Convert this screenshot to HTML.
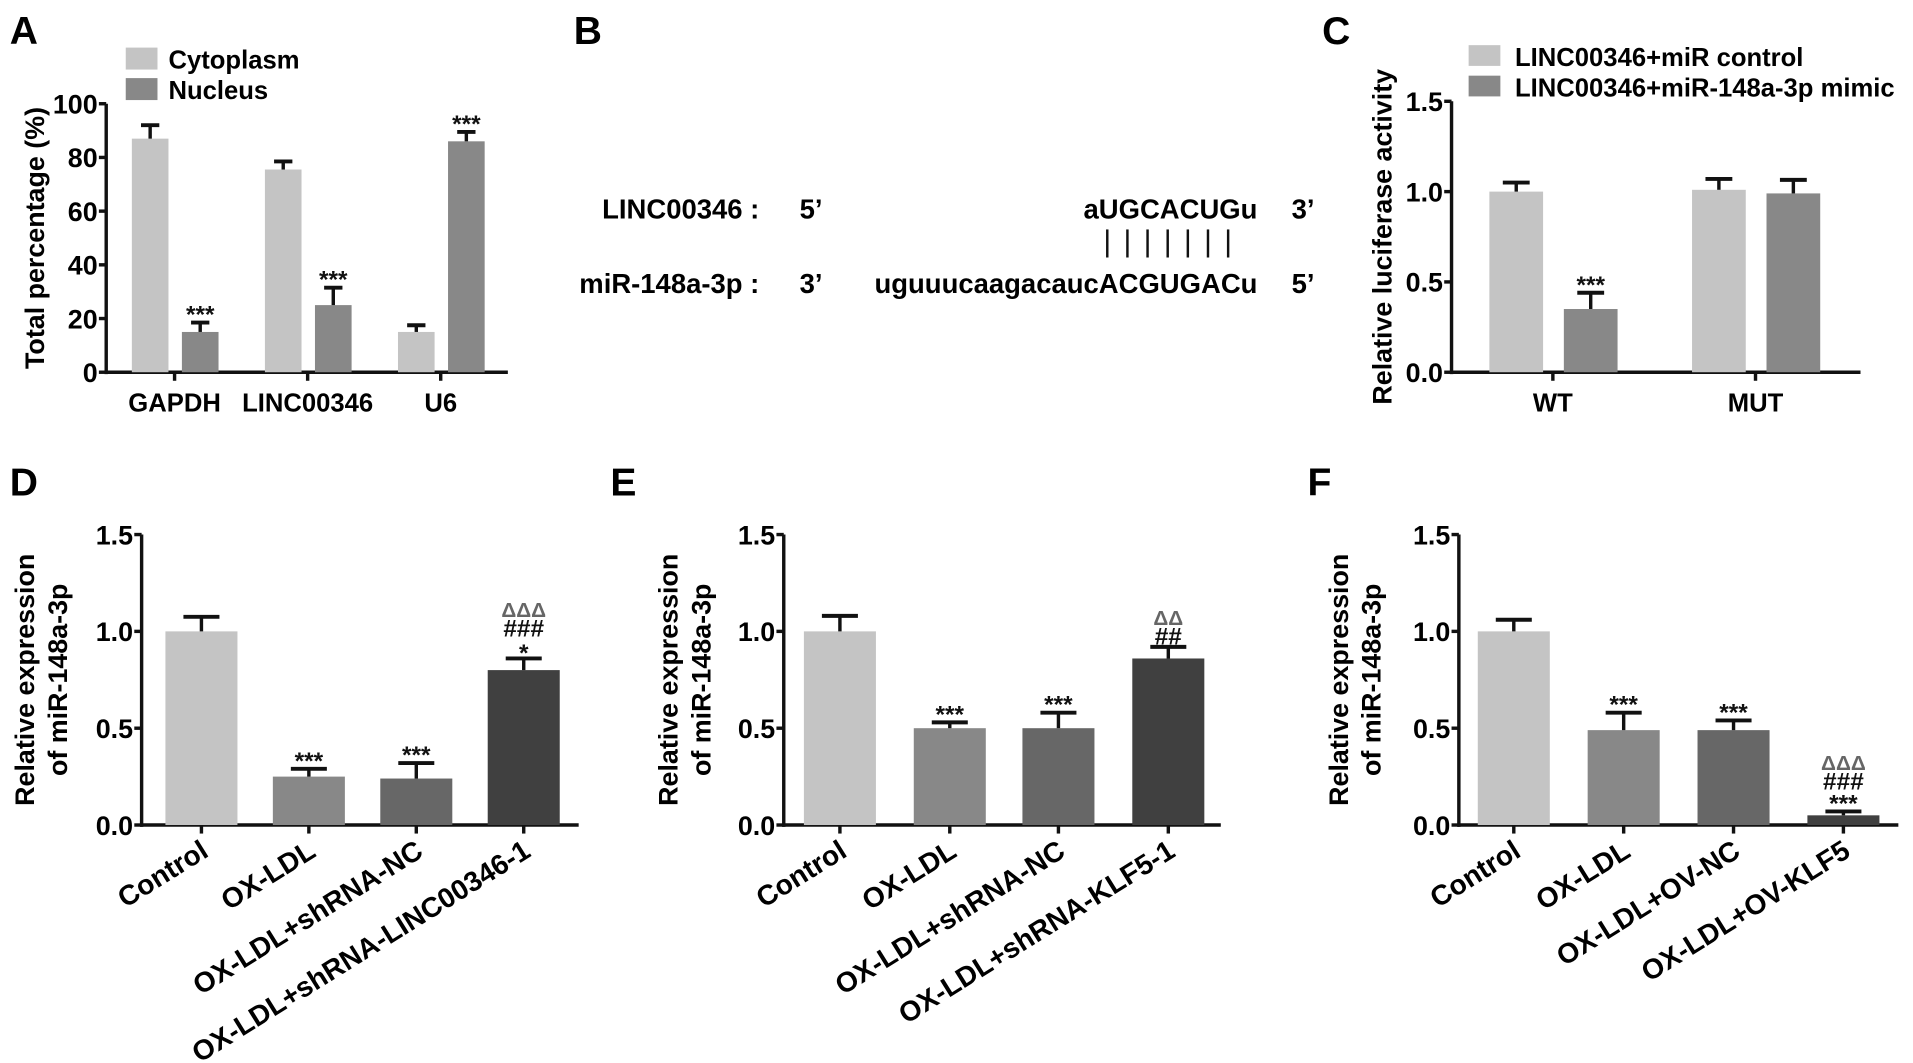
<!DOCTYPE html>
<html><head><meta charset="utf-8"><style>
html,body{margin:0;padding:0;background:#fff;}
svg{display:block;font-family:"Liberation Sans",Arial,sans-serif;font-weight:bold;}
</style></head><body>
<svg id="fig" width="1913" height="1063" viewBox="0 0 1567 871" preserveAspectRatio="none" xmlns="http://www.w3.org/2000/svg">
<rect width="1567" height="871" fill="#fff"/>
<text x="8" y="36" font-size="32">A</text>
<text x="470" y="36" font-size="32">B</text>
<text x="1083" y="36" font-size="32">C</text>
<text x="8" y="406" font-size="32">D</text>
<text x="500" y="406" font-size="32">E</text>
<text x="1071" y="406" font-size="32">F</text>
<!-- Panel A legend -->
<rect x="103" y="39" width="26" height="18" fill="#c4c4c4"/>
<text x="138" y="56" font-size="21">Cytoplasm</text>
<rect x="103" y="64" width="26" height="18" fill="#888"/>
<text x="138" y="81" font-size="21">Nucleus</text>
<!-- Panel C legend -->
<rect x="1203" y="37" width="26" height="17" fill="#c4c4c4"/>
<text x="1241" y="54" font-size="21">LINC00346+miR control</text>
<rect x="1203" y="62" width="26" height="17" fill="#888"/>
<text x="1241" y="79" font-size="21">LINC00346+miR-148a-3p mimic</text>
<!-- Panel B -->
<g font-size="22.5">
<text x="622" y="179" text-anchor="end">LINC00346 :</text>
<text x="655" y="179">5’</text>
<text x="1030" y="179" text-anchor="end">aUGCACUGu</text>
<text x="1058" y="179">3’</text>
<text x="622" y="240" text-anchor="end">miR-148a-3p :</text>
<text x="655" y="240">3’</text>
<text x="1030" y="240" text-anchor="end">uguuucaagacaucACGUGACu</text>
<text x="1058" y="240">5’</text>
<g id="pairs" stroke="#111" stroke-width="2"></g>
</g>
<g id="charts"></g>
</svg>
<script>
// Panel A data
const aCats = ["GAPDH","LINC00346","U6"];
const aCyto = [87, 75.5, 15];
const aCytoErr = [5, 3, 2.5];
const aNuc = [15, 25, 86];
const aNucErr = [3.5, 6.5, 3.5];
const aTicks = [0,20,40,60,80,100];
// Panel C data
const cCats = ["WT","MUT"];
const cCtrl = [1.0, 1.01];
const cCtrlErr = [0.05, 0.06];
const cMimic = [0.35, 0.99];
const cMimicErr = [0.09, 0.075];
const relTicks = ["0.0","0.5","1.0","1.5"];
// Panel D data
const dCats = ["Control","OX-LDL","OX-LDL+shRNA-NC","OX-LDL+shRNA-LINC00346-1"];
const dVals = [1.0, 0.25, 0.24, 0.80];
const dErr = [0.075, 0.04, 0.08, 0.06];
const dAnn = [[],["***"],["***"],["*","###","ΔΔΔ"]];
// Panel E data
const eCats = ["Control","OX-LDL","OX-LDL+shRNA-NC","OX-LDL+shRNA-KLF5-1"];
const eVals = [1.0, 0.50, 0.50, 0.86];
const eErr = [0.08, 0.03, 0.08, 0.06];
const eAnn = [[],["***"],["***"],["##","ΔΔ"]];
// Panel F data
const fCats = ["Control","OX-LDL","OX-LDL+OV-NC","OX-LDL+OV-KLF5"];
const fVals = [1.0, 0.49, 0.49, 0.05];
const fErr = [0.06, 0.09, 0.05, 0.02];
const fAnn = [[],["***"],["***"],["***","###","ΔΔΔ"]];

const NS="http://www.w3.org/2000/svg";
const root=document.getElementById('charts');
function mk(tag,attrs,parent){const e=document.createElementNS(NS,tag);for(const k in attrs)e.setAttribute(k,attrs[k]);(parent||root).appendChild(e);return e;}

const pairs=document.getElementById('pairs');
for(let i=0;i<7;i++){
  const l=mk('line',{x1:907+i*16.5,x2:907+i*16.5,y1:188,y2:211},pairs);
  
  
}

function axes(g,p){
  const ys=v=>p.y0-(v/p.max)*(p.y0-p.yTop);
  let l=mk('line',{x1:p.ax,x2:p.ax,y1:p.yTop,y2:p.y0+1.5,stroke:'#111','stroke-width':2.8},g);
  
  
  l=mk('line',{x1:p.ax-1,x2:p.end,y1:p.y0,y2:p.y0,stroke:'#111','stroke-width':2.8},g);
  
  
  p.ticks.forEach(t=>{
    const v=parseFloat(t), y=ys(v);
    const tk=mk('line',{x1:p.ax-6,x2:p.ax,y1:y,y2:y,stroke:'#111','stroke-width':2.8},g);
    
    
    const tx=mk('text',{x:p.ax-7,y:y+8,'text-anchor':'end','font-size':22},g);
    tx.textContent=t;
    
    
  });
  p.centers.forEach(c=>{
    const tk=mk('line',{x1:c,x2:c,y1:p.y0,y2:p.y0+7,stroke:'#111','stroke-width':2.8},g);
    
    
  });
  const cy=(p.yTop+p.y0)/2;
  p.title.forEach((t,i)=>{
    const x=p.titleX[i];
    const tx=mk('text',{x:x,y:cy,'text-anchor':'middle','font-size':22,transform:`rotate(-90 ${x} ${cy})`},g);
    tx.textContent=t;
    
    
  });
  return ys;
}
function bar(g,ys,x,w,v,e,fill,ann){
  const r=mk('rect',{x:x-w/2,y:ys(v),width:w,height:ys(0)-ys(v),fill:fill},g);
  
  
  const top=ys(v+e);
  const el=mk('line',{x1:x,x2:x,y1:ys(v),y2:top,stroke:'#111','stroke-width':2.8},g);
  
  
  const cap=mk('line',{x1:x-w*0.25,x2:x+w*0.25,y1:top,y2:top,stroke:'#111','stroke-width':3.2},g);
  
  
  (ann||[]).forEach((a,i)=>{
    const isD=a.indexOf('Δ')>=0;
    const t=mk('text',{x:x,y:top-2-i*16+(a==='*'?4:0)+(a==='***'?2:0),'text-anchor':'middle','font-size':isD?17:20,fill:isD?'#666':'#111'},g);
    t.textContent=a;
    
    
  });
}
function catLabels(g,p,cats,rot){
  cats.forEach((c,i)=>{
    const x=p.centers[i], y=p.y0+(rot?25:32);
    const t=mk('text',{x:rot?x+7:x,y:y,'text-anchor':rot?'end':'middle','font-size':rot?23:21},g);
    if(rot)t.setAttribute('transform',`rotate(-32 ${x+7} ${y})`);
    t.textContent=c;
    
    
  });
}

// Panel A
{const g=mk('g',{});
 const p={ax:87,y0:305,yTop:85,max:100,end:416,centers:[143,252,361],ticks:aTicks.map(String),title:["Total percentage (%)"],titleX:[36]};
 const ys=axes(g,p);
 aCats.forEach((c,i)=>{
   bar(g,ys,p.centers[i]-20,30,aCyto[i],aCytoErr[i],'#c4c4c4',[]);
   bar(g,ys,p.centers[i]+21,30,aNuc[i],aNucErr[i],'#888',["***"]);
 });
 catLabels(g,p,aCats,false);}
// Panel C
{const g=mk('g',{});
 const p={ax:1189,y0:305,yTop:83,max:1.5,end:1524,centers:[1272,1438],ticks:relTicks,title:["Relative luciferase activity"],titleX:[1140]};
 const ys=axes(g,p);
 cCats.forEach((c,i)=>{
   bar(g,ys,p.centers[i]-30,44,cCtrl[i],cCtrlErr[i],'#c4c4c4',[]);
   bar(g,ys,p.centers[i]+31,44,cMimic[i],cMimicErr[i],'#888',i===0?["***"]:[]);
 });
 catLabels(g,p,cCats,false);}
// Panels D, E, F
const cols=['#c4c4c4','#888','#676767','#404040'];
function bottomPanel(name,ax,centers,end,cats,vals,errs,anns,tx){
  const g=mk('g',{});
  
  
  const p={ax:ax,y0:676,yTop:438,max:1.5,end:end,centers:centers,ticks:relTicks,title:["Relative expression","of miR-148a-3p"],titleX:tx};
  const ys=axes(g,p);
  cats.forEach((c,i)=>bar(g,ys,centers[i],59,vals[i],errs[i],cols[i],anns[i]));
  catLabels(g,p,cats,true);
}
bottomPanel('panel-d-chart',116,[165,253,341,429],474,dCats,dVals,dErr,dAnn,[28,55]);
bottomPanel('panel-e-chart',642,[688,778,867,957],1000,eCats,eVals,eErr,eAnn,[555,582]);
bottomPanel('panel-f-chart',1195,[1240,1330,1420,1510],1555,fCats,fVals,fErr,fAnn,[1104,1131]);
</script>
</body></html>
